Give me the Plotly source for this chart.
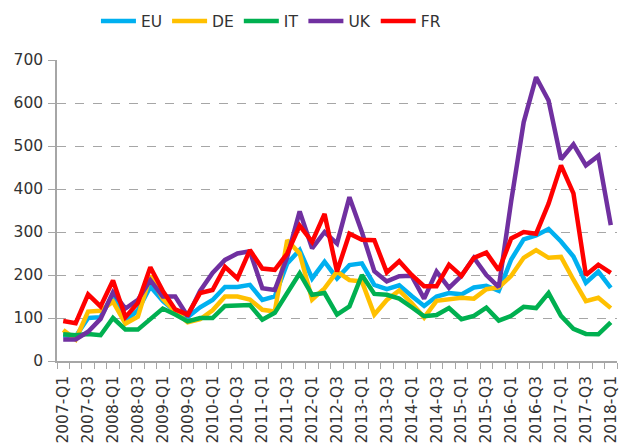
import plotly.graph_objects as go

quarters = [f"{y}-Q{q}" for y in range(2007, 2019) for q in range(1, 5)][:45]

eu = [60, 57, 100, 102, 155, 93, 118, 173, 140, 115, 102, 125, 142, 172, 172, 177,
      142, 150, 227, 258, 192, 231, 192, 223, 227, 177, 167, 176, 151, 128, 150, 158,
      155, 171, 175, 163, 236, 283, 292, 307, 278, 243, 182, 208, 170]
de = [72, 50, 115, 117, 138, 87, 103, 198, 145, 115, 90, 97, 118, 150, 150, 143,
      119, 115, 281, 250, 143, 169, 208, 188, 185, 108, 142, 164, 135, 101, 140, 143,
      147, 145, 167, 171, 198, 240, 258, 240, 242, 189, 139, 147, 123]
it = [62, 60, 63, 60, 100, 73, 73, 97, 122, 108, 92, 100, 100, 128, 128, 130,
      96, 112, 158, 204, 154, 158, 108, 127, 200, 156, 154, 145, 125, 104, 107, 123,
      97, 105, 124, 94, 105, 126, 123, 158, 105, 75, 63, 62, 90]
uk = [50, 50, 68, 98, 160, 122, 142, 188, 150, 150, 104, 163, 205, 235, 250, 255,
      169, 165, 242, 348, 262, 300, 273, 381, 300, 209, 185, 197, 198, 145, 208, 170,
      198, 240, 200, 172, 372, 555, 660, 606, 469, 504, 455, 477, 316]
fr = [93, 88, 155, 127, 187, 102, 135, 218, 163, 120, 108, 158, 165, 219, 192, 258,
      215, 212, 250, 315, 277, 342, 208, 296, 282, 281, 206, 232, 200, 174, 174, 224,
      198, 240, 252, 211, 285, 300, 296, 366, 455, 390, 200, 224, 205]

series = [("EU", eu, "#00B0F0"), ("DE", de, "#FFC000"), ("IT", it, "#00B050"),
          ("UK", uk, "#7030A0"), ("FR", fr, "#FF0000")]

xpos = list(range(len(quarters)))
FONT = "DejaVu Sans, Verdana, sans-serif"
TXT = "#333333"
AX = "#A6A6A6"

fig = go.Figure()
for name, vals, col in series:
    fig.add_trace(go.Scatter(x=xpos, y=vals, name=name, mode="lines",
                             line=dict(color=col, width=4.5)))

fig.update_layout(
    width=619, height=445,
    margin=dict(l=57, r=2, t=60, b=84),
    paper_bgcolor="white", plot_bgcolor="white",
    font=dict(family=FONT, size=15.5, color=TXT),
    showlegend=True,
    legend=dict(orientation="h", xref="container", yref="container",
                x=0.155, xanchor="left", y=0.99, yanchor="top",
                font=dict(family=FONT, size=15.5, color=TXT),
                itemwidth=35, tracegroupgap=0, bgcolor="rgba(0,0,0,0)"),
)

fig.update_xaxes(
    range=[-0.5, len(quarters) - 0.5],
    tickmode="array", tickvals=xpos[::2], ticktext=quarters[::2],
    tickangle=-90, ticks="", showgrid=False, zeroline=False,
    showline=True, linecolor=AX, linewidth=1.5,
    tickfont=dict(family=FONT, size=15.5, color=TXT),
    ticklabelstandoff=7, ticklabeloverflow="allow",
    minor=dict(tickmode="array", tickvals=[i - 0.5 for i in range(len(quarters) + 1)],
               ticks="outside", ticklen=6, tickcolor=AX, tickwidth=1.2, showgrid=False),
    automargin=False,
)

fig.update_yaxes(
    range=[0, 700], dtick=100, tick0=0,
    showgrid=True, gridcolor=AX, griddash="dash", gridwidth=1.3,
    zeroline=False, showline=True, linecolor=AX, linewidth=1.5,
    ticks="outside", ticklen=7, tickcolor=AX, tickwidth=1.2,
    tickfont=dict(family=FONT, size=15.5, color=TXT),
    ticklabelstandoff=2,
    automargin=False,
)

fig.write_html("out.html", config={"displayModeBar": False},
               post_script="document.body.style.margin='0';document.body.style.overflow='hidden';")
